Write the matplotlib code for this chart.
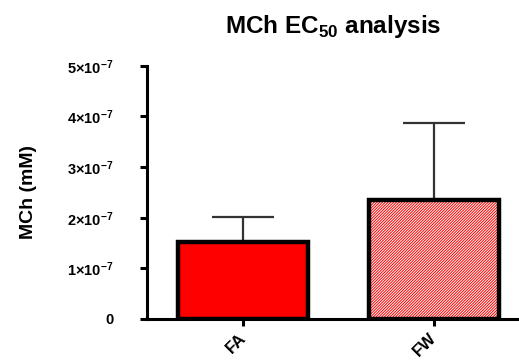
import matplotlib.pyplot as plt

groups = ["FA", "FW"]
means = [1.52e-7, 2.35e-7]
errors_up = [0.50e-7, 1.52e-7]
yticks = [0, 1e-7, 2e-7, 3e-7, 4e-7, 5e-7]
ytick_labels = ["0"] + [r"$\mathbf{%d{\times}10^{-7}}$" % i for i in range(1, 6)]

plt.rcParams['font.family'] = ['Liberation Sans', 'DejaVu Sans']
plt.rcParams['mathtext.fontset'] = 'custom'
plt.rcParams['mathtext.rm'] = 'Liberation Sans'
plt.rcParams['mathtext.bf'] = 'Liberation Sans:bold'
plt.rcParams['hatch.linewidth'] = 0.7

fig = plt.figure(figsize=(5.19, 3.6), dpi=100)
ax = fig.add_axes([0.283, 0.114, 0.717, 0.703])

x = list(range(len(groups)))
width = 0.68

# error bars (upper only) drawn behind bars
ax.errorbar(x, means, yerr=[[0, 0], errors_up], fmt='none', ecolor='#333333',
            elinewidth=1.6, capsize=22, capthick=1.6, zorder=1)

# FA solid, FW hatched
ax.bar(x[0], means[0], width, color='#ff0000', edgecolor='none', zorder=2)
ax.bar(x[1], means[1], width, color='#ff0000', edgecolor='white', hatch='/' * 12,
       linewidth=0, zorder=2)
ax.bar(x, means, width, fill=False, edgecolor='black', linewidth=3.2, zorder=3)

ax.set_xlim(-0.505, 1.445)
ax.set_ylim(0, 5e-7)
ax.set_yticks(yticks)
ax.set_yticklabels(ytick_labels, fontsize=10.5, fontweight='bold')
ax.set_xticks(x)
ax.set_xticklabels(groups, rotation=45, fontsize=12, fontweight='bold',
                   ha='right', va='center', rotation_mode='anchor')

for side in ['top', 'right']:
    ax.spines[side].set_visible(False)
for side in ['left', 'bottom']:
    ax.spines[side].set_linewidth(2.2)
ax.tick_params(axis='both', width=2.2, length=5, direction='out')
ax.tick_params(axis='x', pad=7)
ax.tick_params(axis='y', pad=19)

ax.set_ylabel("MCh (mM)", fontsize=14, fontweight='bold', labelpad=22)
ax.set_title(r"MCh EC$_{\mathbf{50}}$ analysis", fontsize=17.5, fontweight='bold', pad=24)

fig.savefig("out.png", dpi=100)
